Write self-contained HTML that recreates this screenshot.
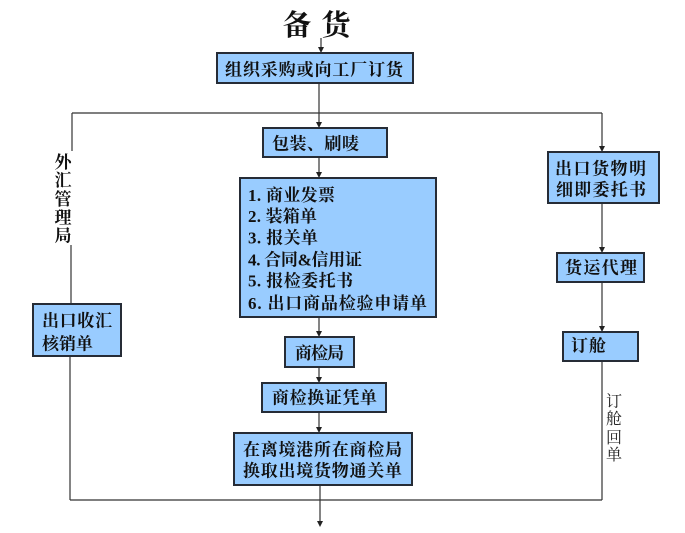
<!DOCTYPE html>
<html>
<head>
<meta charset="utf-8">
<style>
html,body{margin:0;padding:0;background:#fff;}
svg{display:block;}
.b{fill:#99ccff;stroke:#262c36;stroke-width:2;}
.t{font-family:"Liberation Serif","Noto Serif CJK SC","Noto Sans CJK SC",serif;font-weight:bold;font-size:17px;fill:#111;}
.l{stroke:#333;stroke-width:1.2;fill:none;}
.a{fill:#222;}
.v{font-family:"Liberation Serif","Noto Serif CJK SC",serif;font-weight:bold;font-size:17px;fill:#111;text-anchor:middle;}
.r{font-family:"Liberation Serif","Noto Serif CJK SC",serif;font-weight:normal;font-size:16px;fill:#222;text-anchor:middle;}
</style>
</head>
<body>
<svg width="685" height="533" viewBox="0 0 685 533" xmlns="http://www.w3.org/2000/svg">
<!-- Title -->
<text x="297" y="26" class="t" style="font-size:29px" text-anchor="middle" dominant-baseline="central">备</text>
<text x="336" y="26" class="t" style="font-size:29px" text-anchor="middle" dominant-baseline="central">货</text>

<!-- lines -->
<line class="l" x1="321" y1="38" x2="321" y2="48"/>
<polygon class="a" points="318,47 324,47 321,53"/>

<line class="l" x1="319" y1="83" x2="319" y2="123"/>
<polygon class="a" points="316,122 322,122 319,128"/>

<line class="l" x1="72" y1="113" x2="602" y2="113"/>
<line class="l" x1="72" y1="113" x2="72" y2="151"/>
<line class="l" x1="71" y1="245" x2="71" y2="304"/>
<line class="l" x1="602" y1="113" x2="602" y2="147"/>
<polygon class="a" points="599,146 605,146 602,152"/>

<line class="l" x1="319" y1="157" x2="319" y2="173"/>
<polygon class="a" points="316,172 322,172 319,178"/>

<line class="l" x1="319" y1="317" x2="319" y2="332"/>
<polygon class="a" points="316,331 322,331 319,337"/>

<line class="l" x1="319" y1="367" x2="319" y2="378"/>
<polygon class="a" points="316,377 322,377 319,383"/>

<line class="l" x1="319" y1="412" x2="319" y2="428"/>
<polygon class="a" points="316,427 322,427 319,433"/>

<line class="l" x1="320" y1="485" x2="320" y2="522"/>
<polygon class="a" points="317,521 323,521 320,527"/>

<line class="l" x1="70" y1="500" x2="602" y2="500"/>
<line class="l" x1="70" y1="356" x2="70" y2="500"/>

<line class="l" x1="602" y1="203" x2="602" y2="248"/>
<polygon class="a" points="599,247 605,247 602,253"/>
<line class="l" x1="602" y1="282" x2="602" y2="327"/>
<polygon class="a" points="599,326 605,326 602,332"/>
<line class="l" x1="602" y1="361" x2="602" y2="500"/>

<!-- boxes -->
<rect class="b" x="217" y="53" width="196" height="30"/>
<text class="t" x="225" y="70" textLength="178" lengthAdjust="spacing" dominant-baseline="central">组织采购或向工厂订货</text>

<rect class="b" x="263" y="128" width="124" height="29"/>
<text class="t" x="272" y="144" textLength="87" lengthAdjust="spacing" dominant-baseline="central">包装、刷唛</text>

<rect class="b" x="240" y="178" width="196" height="139"/>
<text class="t" x="248" y="195.5" textLength="87" lengthAdjust="spacing" dominant-baseline="central">1. 商业发票</text>
<text class="t" x="248" y="216.5" textLength="69" lengthAdjust="spacing" dominant-baseline="central">2. 装箱单</text>
<text class="t" x="248" y="238" textLength="70" lengthAdjust="spacing" dominant-baseline="central">3. 报关单</text>
<text class="t" x="248" y="260" textLength="114" lengthAdjust="spacing" dominant-baseline="central">4. 合同&amp;信用证</text>
<text class="t" x="248" y="281" textLength="105" lengthAdjust="spacing" dominant-baseline="central">5. 报检委托书</text>
<text class="t" x="248" y="303.5" textLength="179" lengthAdjust="spacing" dominant-baseline="central">6. 出口商品检验申请单</text>

<rect class="b" x="285" y="337" width="69" height="30"/>
<text class="t" x="295" y="353.5" textLength="49" lengthAdjust="spacing" dominant-baseline="central">商检局</text>

<rect class="b" x="262" y="383" width="124" height="29"/>
<text class="t" x="272" y="398" textLength="105" lengthAdjust="spacing" dominant-baseline="central">商检换证凭单</text>

<rect class="b" x="234" y="433" width="178" height="52"/>
<text class="t" x="243" y="450" textLength="159" lengthAdjust="spacing" dominant-baseline="central">在离境港所在商检局</text>
<text class="t" x="243" y="471" textLength="159" lengthAdjust="spacing" dominant-baseline="central">换取出境货物通关单</text>

<rect class="b" x="33" y="304" width="88" height="52"/>
<text class="t" x="42" y="321" textLength="70" lengthAdjust="spacing" dominant-baseline="central">出口收汇</text>
<text class="t" x="42" y="344" textLength="51" lengthAdjust="spacing" dominant-baseline="central">核销单</text>

<rect class="b" x="548" y="152" width="111" height="51"/>
<text class="t" x="555" y="169" textLength="91" lengthAdjust="spacing" dominant-baseline="central">出口货物明</text>
<text class="t" x="556" y="190" textLength="90" lengthAdjust="spacing" dominant-baseline="central">细即委托书</text>

<rect class="b" x="557" y="253" width="87" height="29"/>
<text class="t" x="565" y="268" textLength="72" lengthAdjust="spacing" dominant-baseline="central">货运代理</text>

<rect class="b" x="563" y="332" width="75" height="29"/>
<text class="t" x="571" y="346" textLength="35" lengthAdjust="spacing" dominant-baseline="central">订舱</text>

<!-- vertical labels -->
<text class="v" x="63" y="162.5" dominant-baseline="central">外</text>
<text class="v" x="63" y="180.5" dominant-baseline="central">汇</text>
<text class="v" x="63" y="199.5" dominant-baseline="central">管</text>
<text class="v" x="63" y="218" dominant-baseline="central">理</text>
<text class="v" x="63" y="236" dominant-baseline="central">局</text>

<text class="r" x="614" y="402" dominant-baseline="central">订</text>
<text class="r" x="614" y="419.5" dominant-baseline="central">舱</text>
<text class="r" x="614" y="438.5" dominant-baseline="central">回</text>
<text class="r" x="614" y="455.5" dominant-baseline="central">单</text>
</svg>
</body>
</html>
